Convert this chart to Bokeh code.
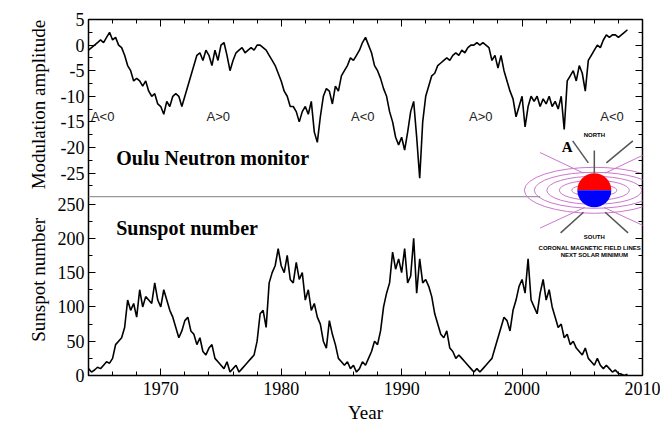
import numpy as np
from bokeh.plotting import figure
from bokeh.models import Range1d, LinearAxis, FixedTicker, CustomJSTickFormatter, Label
from bokeh.embed import file_html
from bokeh.resources import INLINE

years = [1964 + 0.25 * i for i in range(180)]
modulation = [
 -1,-0.5,0,0.5, 1,0.5,1.5,2.5, 1,1.5,0,-0.5, -2,-4,-5,-7, -6.5,-7,-8,-7, -9,-10,-9.5,-11.5,
 -12,-13.5,-11,-12, -10,-9.5,-10,-12, -10,-8,-6,-4, -2,-1.5,-3,-1, -2,-4,-1,-3, 0,0.5,-2,-5,
 -3,-1.5,-1,-0.5, -1.5,-1,-0.5,-1, 0,0,-0.5,-1, -2,-3,-4,-5.5, -7,-9,-10,-12, -12,-13,-15,-13,
 -12,-13.5,-11,-17, -19,-14,-10,-8.5, -9,-11.5,-8,-9, -6,-5,-4,-2.5, -3,-2,-1,0.5, 1.5,0,-1.5,-4,
 -5,-6.5,-8.5,-10, -13,-15,-18,-19.5, -18,-20.5,-17,-13, -11,-18,-26,-15, -10,-8,-6,-5.5,
 -4,-3.5,-3,-2.5, -3,-2,-1.5,-2, -1,-1.5,-0.5,0, 0,0.5,0,0.5, 0,-0.5,-3,-2, -4.5,-2,-5,-7,
 -9,-10.5,-14,-12, -10,-16,-12,-10, -11,-10,-12,-10.5, -11.5,-10,-12,-11, -12.5,-10,-16.5,-7,
 -6,-5,-7,-4, -5.5,-9,-3,-2, -1,0,-0.5,1, 2,1.5,2,2, 1.5,2,2.5,3]
sunspots = [
 10,5,8,12, 10,15,20,18, 25,45,50,55, 70,110,95,105, 85,125,100,115, 110,105,135,110,
 100,125,110,95, 85,70,55,65, 80,85,65,60, 45,55,35,30, 40,45,25,20, 15,10,20,5,
 10,15,5,10, 15,20,25,30, 50,90,95,70, 135,150,160,185, 160,150,175,140, 135,165,140,150,
 110,125,95,105, 85,75,50,40, 80,60,45,25, 20,15,20,10, 15,5,10,20, 15,25,35,50,
 45,65,100,120, 135,180,155,170, 150,185,135,145, 200,120,170,135, 140,130,115,90,
 75,60,55,65, 40,35,25,30, 25,20,15,10, 5,10,5,10, 15,20,25,40, 55,70,85,80,
 65,95,110,130, 140,120,170,110, 100,90,120,140, 110,125,100,85, 70,75,55,60,
 45,50,40,35, 30,40,25,20, 15,25,15,10, 15,10,5,8, 3,2,0,2]
sun_ticks = [0, 50, 100, 150, 200, 250]
mod_ticks = [-25, -20, -15, -10, -5, 0, 5]
x_ticks = [1970, 1980, 1990, 2000, 2010]

S_END = 519.0
M_START, M_END = -64.55, 5.0
def m2s(m):
    return (m - M_START) / (M_END - M_START) * S_END

serif = "Liberation Serif"
p = figure(width=660, height=425, output_backend="svg", toolbar_location=None,
           x_range=Range1d(1964, 2010), y_range=Range1d(0, S_END),
           min_border_left=88, min_border_right=18, min_border_top=19, min_border_bottom=50)
p.extra_y_ranges = {"mod": Range1d(M_START, M_END)}
p.grid.visible = False
p.outline_line_color = "black"
p.outline_line_width = 1.5

all_major = sun_ticks + [m2s(m) for m in mod_ticks]
minor = [v + 25 for v in sun_ticks[:-1]] + [m2s(m + 2.5) for m in mod_ticks[:-1]] + [m2s(-27.5)]
ticker = FixedTicker(ticks=all_major, minor_ticks=minor)
fmt = CustomJSTickFormatter(args=dict(s=M_START, e=M_END, top=S_END), code="""
if (tick > 260) { return (Math.round(s + tick/top*(e-s))).toString(); }
return Math.round(tick).toString();""")

NB = "\u00a0"
ya = p.yaxis[0]
ya.ticker = ticker
ya.formatter = fmt
ya.axis_label = NB * 7 + "Sunspot number" + NB * 6 + "Modulation amplitude"
ya.axis_label_text_font = serif
ya.axis_label_text_font_style = "normal"
ya.axis_label_text_font_size = "19px"
ya.axis_label_text_color = "black"
ya.axis_label_standoff = 6
xa = p.xaxis[0]
xa.ticker = FixedTicker(ticks=x_ticks, minor_ticks=[1964 + 2*i for i in range(24)])
xa.axis_label = "Year"
xa.axis_label_text_font = serif
xa.axis_label_text_font_style = "normal"
xa.axis_label_text_font_size = "19px"
xa.axis_label_text_color = "black"
xa.axis_label_standoff = 4
for ax in (xa, ya):
    ax.major_label_text_font = serif
    ax.major_label_text_font_size = "18px"
    ax.major_label_text_color = "black"
    ax.major_tick_in = 7; ax.major_tick_out = 0
    ax.minor_tick_in = 4; ax.minor_tick_out = 0
    ax.axis_line_color = None
    ax.major_label_standoff = 4
xa.major_label_standoff = 6
ra = LinearAxis(ticker=FixedTicker(ticks=all_major, minor_ticks=minor), major_label_text_font_size="0px",
                major_tick_in=7, major_tick_out=0, minor_tick_in=4, minor_tick_out=0, axis_line_color=None)
p.add_layout(ra, "right")
ta = LinearAxis(ticker=FixedTicker(ticks=x_ticks, minor_ticks=[1964 + 2*i for i in range(24)]),
                major_label_text_font_size="0px", major_tick_in=7, major_tick_out=0,
                minor_tick_in=4, minor_tick_out=0, axis_line_color=None)
p.add_layout(ta, "above")

p.line(years, sunspots, line_color="black", line_width=1.6)
p.line(years, modulation, line_color="black", line_width=1.6, y_range_name="mod")
p.segment(x0=[1964], y0=[-29.6], x1=[2001.5], y1=[-29.6], line_color="#999999", line_width=1.2,
          y_range_name="mod")

p.add_layout(Label(x=1966.3, y=-22, y_range_name="mod", text="Oulu Neutron monitor", text_font=serif,
                   text_font_style="bold", text_font_size="20px", text_baseline="middle",
                   text_color="black"))
p.add_layout(Label(x=1966.3, y=215, text="Sunspot number", text_font=serif, text_color="black",
                   text_font_style="bold", text_font_size="20px", text_baseline="middle"))
for t, x in [("A<0", 1964.2), ("A>0", 1973.8), ("A<0", 1985.8), ("A>0", 1995.6), ("A<0", 2006.5)]:
    p.add_layout(Label(x=x, y=-14, y_range_name="mod", text=t, text_font="Liberation Sans",
                       text_font_size="13px", text_baseline="middle", text_color="#222222"))

# inset: coronal magnetic field sketch
cx, cy = 2006.0, 270
for w, h in [(45, 12), (70, 20), (95, 28), (120, 36), (140, 46)]:
    p.ellipse(x=cx, y=cy, width=w, height=h, width_units="screen", height_units="screen",
              fill_color=None, line_color="#cc77cc", line_width=1)
p.segment(x0=[cx-0.9, cx+0.9, cx-0.8, cx+0.8], y0=[cy+25, cy+25, cy-25, cy-25],
          x1=[cx-4.5, cx+4.5, cx-4.5, cx+4.5], y1=[cy+55, cy+55, cy-55, cy-55],
          line_color="#cc77cc", line_width=1)
p.wedge(x=cx, y=cy, radius=17, radius_units="screen", start_angle=0, end_angle=np.pi,
        fill_color="red", line_color=None)
p.wedge(x=cx, y=cy, radius=17, radius_units="screen", start_angle=np.pi, end_angle=2*np.pi,
        fill_color="blue", line_color=None)
p.segment(x0=[cx-1.8, cx+3.2, cx-0.9, cx+0.9, cx], y0=[cy+72, cy+72, cy-32, cy-32, cy+25],
          x1=[cx-0.5, cx+1.0, cx-2.8, cx+2.8, cx], y1=[cy+40, cy+40, cy-62, cy-62, cy+58],
          line_color="#555555", line_width=1.5)
p.add_layout(Label(x=2003.3, y=cy+52, text="A", text_font=serif, text_font_style="bold",
                   text_font_size="15px", text_color="black"))
p.add_layout(Label(x=cx, y=cy+76, text="NORTH", text_font="Liberation Sans", text_font_style="bold",
                   text_font_size="6px", text_align="center", text_color="black"))
p.add_layout(Label(x=cx, y=cy-72, text="SOUTH", text_font="Liberation Sans", text_font_style="bold",
                   text_font_size="6px", text_align="center", text_color="black"))
p.add_layout(Label(x=cx, y=cy-88, text="CORONAL MAGNETIC FIELD LINES AT", text_font="Liberation Sans",
                   text_font_style="bold", text_font_size="6px", text_align="center", text_color="black"))
p.add_layout(Label(x=cx, y=cy-98, text="NEXT SOLAR MINIMUM", text_font="Liberation Sans",
                   text_font_style="bold", text_font_size="6px", text_align="center", text_color="black"))

open("out.html", "w").write(file_html(p, INLINE))
